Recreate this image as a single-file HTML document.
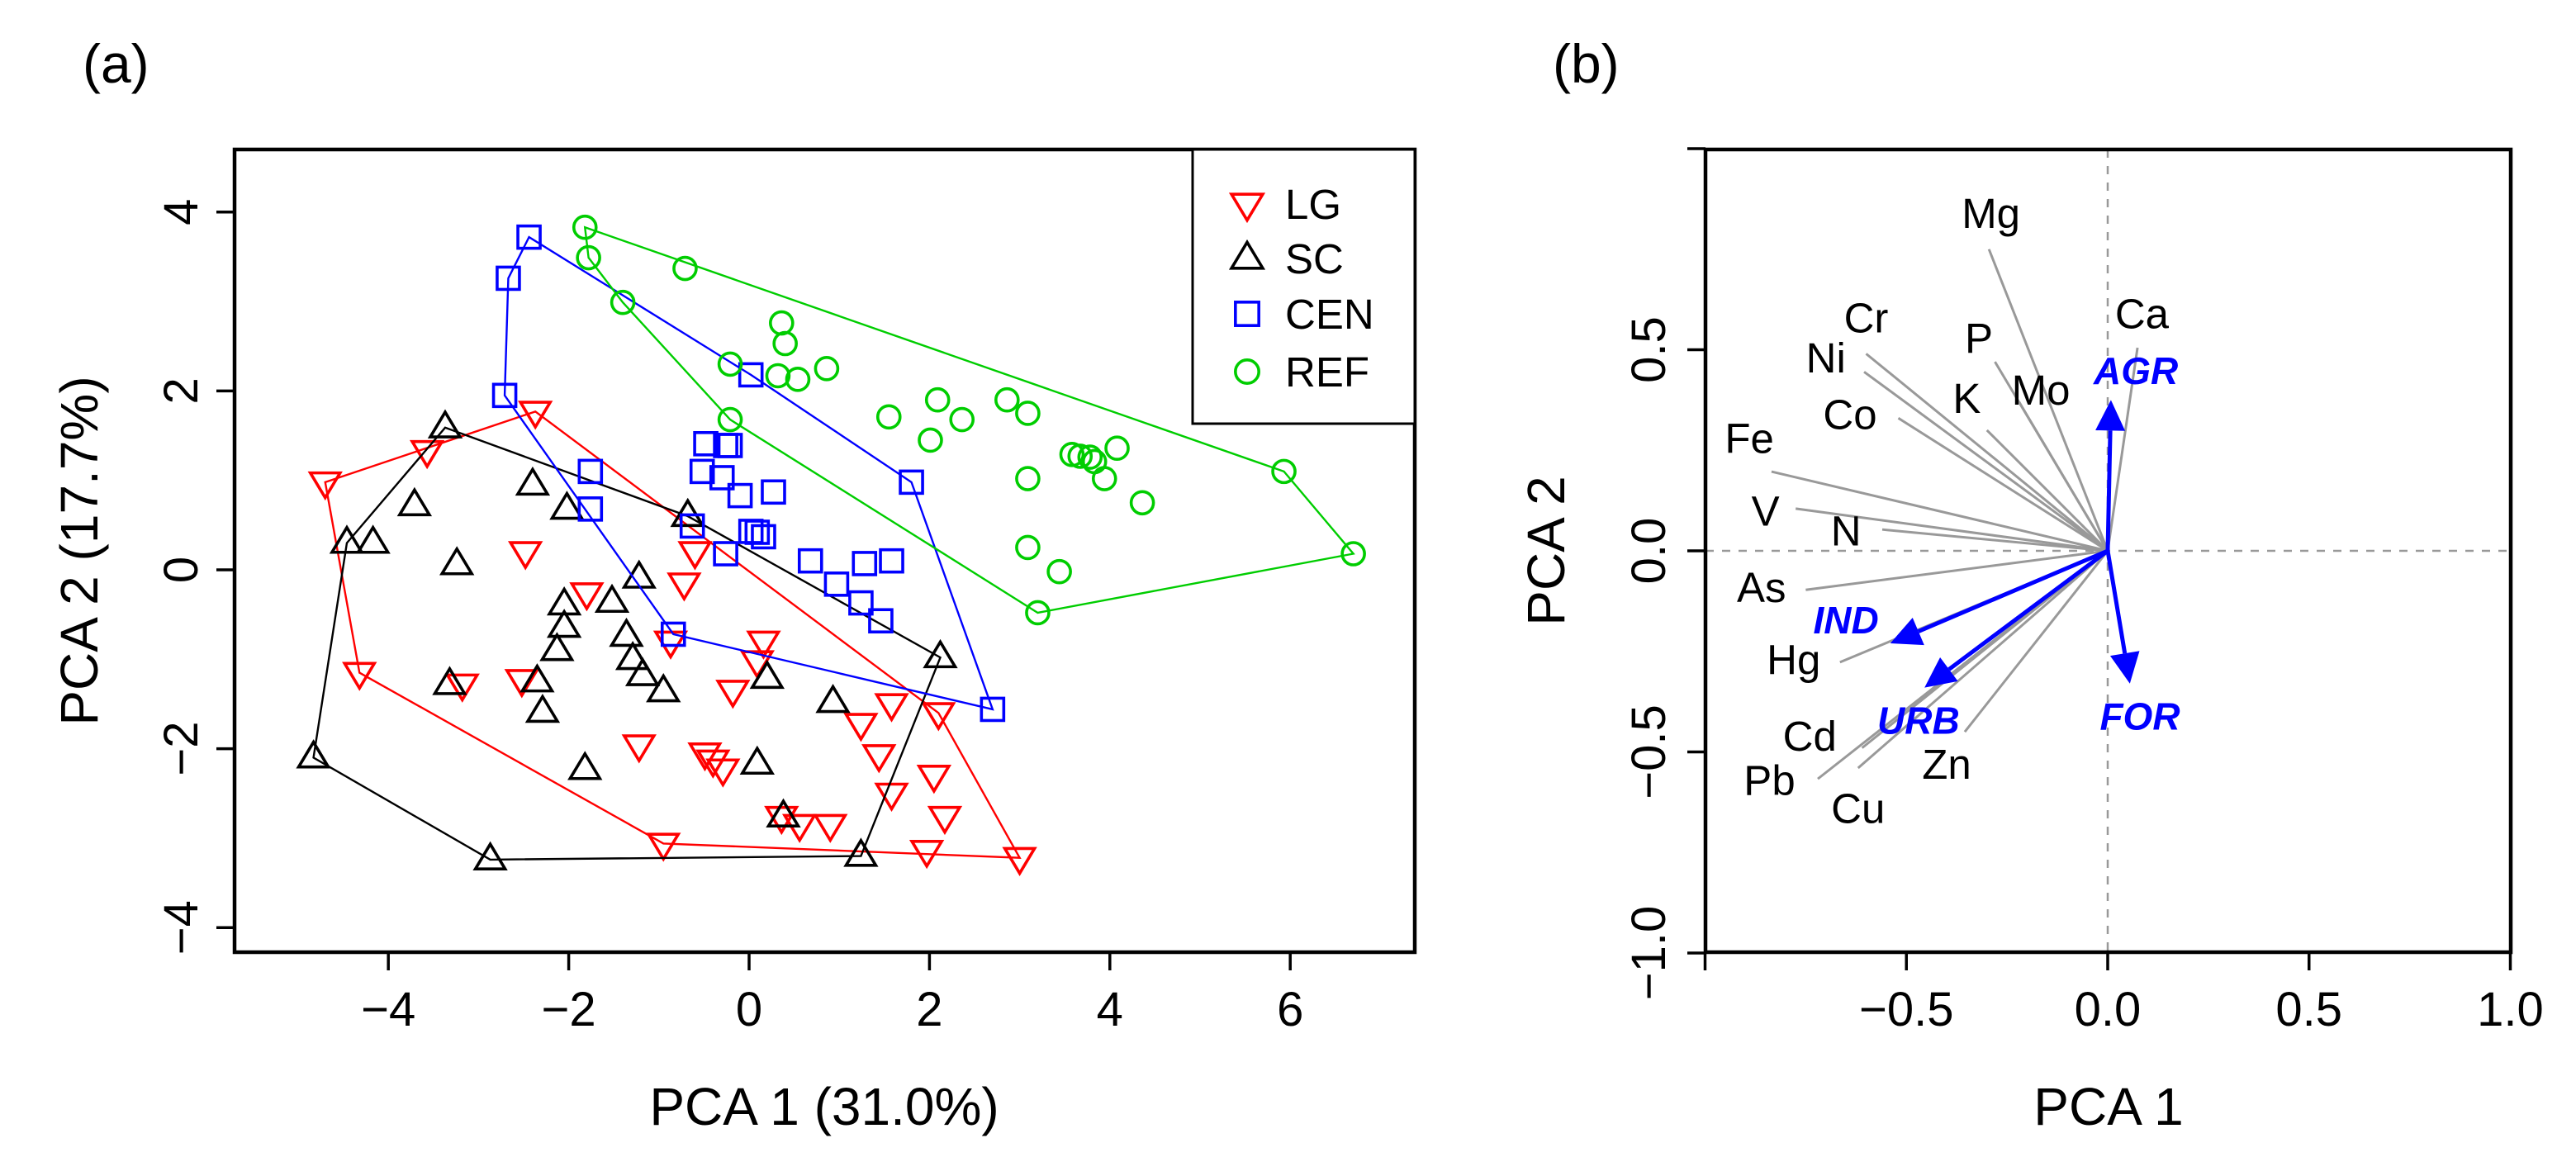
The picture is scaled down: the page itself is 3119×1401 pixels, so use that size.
<!DOCTYPE html>
<html><head><meta charset="utf-8">
<style>
html,body{margin:0;padding:0;background:#fff;}
svg{display:block;font-family:"Liberation Sans",Arial,sans-serif;}
</style></head>
<body>
<svg id="fig" width="3119" height="1401" viewBox="0 0 3119 1401" xmlns="http://www.w3.org/2000/svg">
<rect width="3119" height="1401" fill="#fff"/>
<g id="pa"></g>
<g id="pb"></g>
</svg>
<script>
// ---------- Panel (a) data ----------
const lgX=[-4.7,-3.57,-2.37,-2.48,-0.6,-0.72,-1.8,-0.87,0.16,0.09,-4.32,-3.18,-2.52,-0.18,1.58,2.1,1.24,-1.22,1.44,-0.49,-0.4,-0.29,2.05,1.58,2.17,0.36,0.56,0.9,-0.95,1.97,3.0];
const lgY=[0.98,1.33,1.77,0.2,0.2,-0.15,-0.26,-0.8,-0.8,-1.02,-1.15,-1.28,-1.23,-1.35,-1.5,-1.6,-1.72,-1.96,-2.07,-2.05,-2.13,-2.23,-2.3,-2.5,-2.76,-2.76,-2.85,-2.85,-3.06,-3.14,-3.22];
const scX=[-4.46,-4.17,-3.24,-1.22,-2.05,-1.52,-2.05,-2.13,-1.36,-1.29,-1.18,-0.95,-3.32,-2.35,-2.29,0.2,2.12,0.93,-4.83,-1.82,0.09,0.38,-2.87,1.24,-3.37,-3.71,-2.4,-2.02,-0.68];
const scY=[0.3,0.3,0.06,-0.09,-0.39,-0.36,-0.64,-0.9,-0.74,-1.0,-1.18,-1.36,-1.28,-1.25,-1.59,-1.21,-0.98,-1.48,-2.1,-2.23,-2.17,-2.76,-3.24,-3.2,1.59,0.72,0.95,0.68,0.6];
const cenX=[-2.44,-2.67,-2.71,-1.76,-1.76,0.02,-0.48,-0.26,-0.21,-0.52,-0.3,-0.1,0.27,-0.63,0.02,0.09,0.16,-0.26,0.68,-0.84,0.97,1.28,1.58,1.24,1.46,1.8,2.7];
const cenY=[3.72,3.26,1.95,1.1,0.68,2.18,1.41,1.39,1.39,1.1,1.03,0.83,0.87,0.49,0.43,0.42,0.37,0.18,0.1,-0.72,-0.16,0.07,0.1,-0.37,-0.57,0.98,-1.56];
const refX=[-1.82,-1.78,-0.71,-1.4,0.36,0.4,-0.21,0.32,0.54,0.86,-0.21,2.09,1.55,2.36,2.01,2.86,3.09,4.08,3.58,3.67,3.78,3.83,3.94,3.09,4.36,5.93,6.7,3.09,3.44,3.2];
const refY=[3.83,3.49,3.37,2.99,2.76,2.53,2.3,2.17,2.13,2.25,1.68,1.9,1.71,1.68,1.45,1.9,1.75,1.36,1.29,1.27,1.26,1.21,1.02,1.02,0.75,1.1,0.18,0.25,-0.02,-0.48];
const aXTicks=[-4,-2,0,2,4,6];
const aYTicks=[-4,-2,0,2,4];
const groupNames=["LG","SC","CEN","REF"];

// ---------- Panel (b) data ----------
const elemNames=["Mg","Ca","P","Mo","K","Cr","Ni","Co","Fe","V","N","As","Hg","Cd","Pb","Cu","Zn"];
const elemX=[-0.295,0.074,-0.28,-0.22,-0.30,-0.6,-0.605,-0.52,-0.835,-0.775,-0.56,-0.75,-0.665,-0.61,-0.72,-0.62,-0.355];
const elemY=[0.75,0.505,0.47,0.37,0.30,0.49,0.445,0.33,0.197,0.105,0.053,-0.097,-0.277,-0.49,-0.567,-0.54,-0.45];
const elemLabX=[-0.29,0.085,-0.32,-0.166,-0.35,-0.6,-0.70,-0.64,-0.89,-0.85,-0.65,-0.86,-0.78,-0.74,-0.84,-0.62,-0.40];
const elemLabY=[0.84,0.59,0.53,0.40,0.38,0.58,0.48,0.34,0.28,0.10,0.05,-0.09,-0.27,-0.46,-0.57,-0.64,-0.53];
const luNames=["AGR","IND","URB","FOR"];
const luX=[0.008,-0.54,-0.455,0.055];
const luY=[0.375,-0.23,-0.34,-0.33];
const luLabX=[0.07,-0.65,-0.47,0.08];
const luLabY=[0.45,-0.17,-0.42,-0.41];
const bTicks=[-1,-0.5,0,0.5,1];
const bXLabels=["","\u22120.5","0.0","0.5","1.0"];
const bYLabels=["\u22121.0","\u22120.5","0.0","0.5",""];

const NS="http://www.w3.org/2000/svg";
function mk(parent,tag,attrs,text){const e=document.createElementNS(NS,tag);for(const k in attrs)e.setAttribute(k,attrs[k]);if(text!==undefined)e.textContent=text;parent.appendChild(e);return e;}
function fmtNum(v,d){const s=Math.abs(v).toFixed(d);return (v<0?"\u2212":"")+s;}

// ---------- Panel (a) ----------
const pa=document.getElementById('pa');
const A={l:284,r:1713,t:181,b:1153};
const ax=v=>907+109.2*v, ay=v=>690-108.3*v;

function hull(xs,ys){
  const p=xs.map((x,i)=>[ax(x),ay(ys[i])]).sort((a,b)=>a[0]-b[0]||a[1]-b[1]);
  const cr=(o,a,b)=>(a[0]-o[0])*(b[1]-o[1])-(a[1]-o[1])*(b[0]-o[0]);
  const lo=[],up=[];
  for(const q of p){while(lo.length>=2&&cr(lo[lo.length-2],lo[lo.length-1],q)<=0)lo.pop();lo.push(q);}
  for(let i=p.length-1;i>=0;i--){const q=p[i];while(up.length>=2&&cr(up[up.length-2],up[up.length-1],q)<=0)up.pop();up.push(q);}
  return lo.slice(0,-1).concat(up.slice(0,-1));
}
function marker(g,type,cx,cy,col,s){
  let e;
  if(type==='down'){const w=18*s,h=15*s;e=mk(g,'polygon',{points:`${cx-w},${cy-h*0.75} ${cx+w},${cy-h*0.75} ${cx},${cy+h*1.25}`,fill:'none',stroke:col,'stroke-width':3.6});}
  else if(type==='up'){const w=18*s,h=15*s;e=mk(g,'polygon',{points:`${cx-w},${cy+h*0.75} ${cx+w},${cy+h*0.75} ${cx},${cy-h*1.25}`,fill:'none',stroke:col,'stroke-width':3.6});}
  else if(type==='sq'){const a=13.5*s;e=mk(g,'rect',{x:cx-a,y:cy-a,width:2*a,height:2*a,fill:'none',stroke:col,'stroke-width':3.6});}
  else {e=mk(g,'circle',{cx:cx,cy:cy,r:13.5*s,fill:'none',stroke:col,'stroke-width':3.6});}
  return e;
}
const groups=[[lgX,lgY,'#FF0000','down'],[scX,scY,'#000000','up'],[cenX,cenY,'#0000FF','sq'],[refX,refY,'#00CD00','circ']];
groups.forEach((gd,gi)=>{
  const g=mk(pa,'g',{});
  
  
  const h=hull(gd[0],gd[1]);
  const poly=mk(g,'polygon',{points:h.map(p=>p.join(',')).join(' '),fill:'none',stroke:gd[2],'stroke-width':2.4});
  
  
  gd[0].forEach((x,i)=>{
    const m=marker(g,gd[3],ax(x),ay(gd[1][i]),gd[2],1);
    
    
  });
});
const fa=mk(pa,'rect',{x:A.l,y:A.t,width:A.r-A.l,height:A.b-A.t,fill:'none',stroke:'#000','stroke-width':4.5});


aXTicks.forEach(v=>{
  const x=ax(v);
  mk(pa,'line',{x1:x,y1:A.b,x2:x,y2:A.b+22,stroke:'#000','stroke-width':3.5});
  const t=mk(pa,'text',{x:x,y:1242,'font-size':58,'text-anchor':'middle'},fmtNum(v,0));
  
  
});
aYTicks.forEach(v=>{
  const y=ay(v);
  mk(pa,'line',{x1:A.l,y1:y,x2:A.l-22,y2:y,stroke:'#000','stroke-width':3.5});
  const t=mk(pa,'text',{x:0,y:0,'font-size':58,'text-anchor':'middle',transform:`translate(239,${y}) rotate(-90)`},fmtNum(v,0));
  
  
});
const lg=mk(pa,'g',{});


mk(lg,'rect',{x:1444,y:181,width:269,height:332,fill:'#fff',stroke:'#000','stroke-width':3});
const legY=[247,313,380,450];
groups.forEach((gd,gi)=>{
  const e=mk(lg,'g',{});
  
  
  marker(e,gd[3],1510,legY[gi],gd[2],1.05);
  mk(e,'text',{x:1556,y:legY[gi]+18,'font-size':51},groupNames[gi]);
});

// ---------- Panel (b) ----------
const pb=document.getElementById('pb');
const B={l:2065,r:3040,t:181,b:1153};
const bx=v=>2552+487.5*v, by=v=>667-487*v;
mk(pb,'line',{x1:B.l,y1:by(0),x2:B.r,y2:by(0),stroke:'#999','stroke-width':2.5,'stroke-dasharray':'10,10'});
mk(pb,'line',{x1:bx(0),y1:B.t,x2:bx(0),y2:B.b,stroke:'#999','stroke-width':2.5,'stroke-dasharray':'10,10'});
elemNames.forEach((n,i)=>{
  const l=mk(pb,'line',{x1:bx(0),y1:by(0),x2:bx(elemX[i]),y2:by(elemY[i]),stroke:'#999','stroke-width':3});
  
  
  const t=mk(pb,'text',{x:bx(elemLabX[i]),y:by(elemLabY[i])+18,'font-size':51,'text-anchor':'middle'},n);
  
  
});
luNames.forEach((n,i)=>{
  const x0=bx(0),y0=by(0),x1=bx(luX[i]),y1=by(luY[i]);
  const dx=x1-x0,dy=y1-y0,L=Math.hypot(dx,dy),ux=dx/L,uy=dy/L;
  const hl=37,hw=18;
  const bxp=x1-ux*hl,byp=y1-uy*hl;
  const g=mk(pb,'g',{});
  
  
  mk(g,'line',{x1:x0,y1:y0,x2:bxp,y2:byp,stroke:'#0000FF','stroke-width':5});
  mk(g,'polygon',{points:`${x1},${y1} ${bxp-uy*hw},${byp+ux*hw} ${bxp+uy*hw},${byp-ux*hw}`,fill:'#0000FF'});
  const t=mk(pb,'text',{x:bx(luLabX[i]),y:by(luLabY[i])+17,'font-size':46,'font-weight':'bold','font-style':'italic',fill:'#0000FF','text-anchor':'middle'},n);
  
  
});
const fb=mk(pb,'rect',{x:B.l,y:B.t,width:B.r-B.l,height:B.b-B.t,fill:'none',stroke:'#000','stroke-width':4.5});


bTicks.forEach((v,i)=>{
  const x=bx(v);
  mk(pb,'line',{x1:x,y1:B.b,x2:x,y2:B.b+22,stroke:'#000','stroke-width':3.5});
  if(bXLabels[i]){
    const t=mk(pb,'text',{x:x,y:1242,'font-size':58,'text-anchor':'middle'},bXLabels[i]);
    
    
  }
  const y=by(v);
  mk(pb,'line',{x1:B.l,y1:y,x2:B.l-22,y2:y,stroke:'#000','stroke-width':3.5});
  if(bYLabels[i]){
    const t2=mk(pb,'text',{x:0,y:0,'font-size':58,'text-anchor':'middle',transform:`translate(2016,${y}) rotate(-90)`},bYLabels[i]);
    
    
  }
});
</script>
<svg style="position:absolute;left:0;top:0" width="3119" height="1401">
<g font-family="Liberation Sans, Arial, sans-serif">
<text x="100" y="100" font-size="66">(a)</text>
<text x="1880" y="100" font-size="66">(b)</text>
<text x="998" y="1362" font-size="64" text-anchor="middle">PCA 1 (31.0%)</text>
<text x="0" y="0" font-size="64" text-anchor="middle" transform="translate(118,667) rotate(-90)">PCA 2 (17.7%)</text>
<text x="2553" y="1362" font-size="64" text-anchor="middle">PCA 1</text>
<text x="0" y="0" font-size="64" text-anchor="middle" transform="translate(1894,667) rotate(-90)">PCA 2</text>
</g>
</svg>
</body></html>
